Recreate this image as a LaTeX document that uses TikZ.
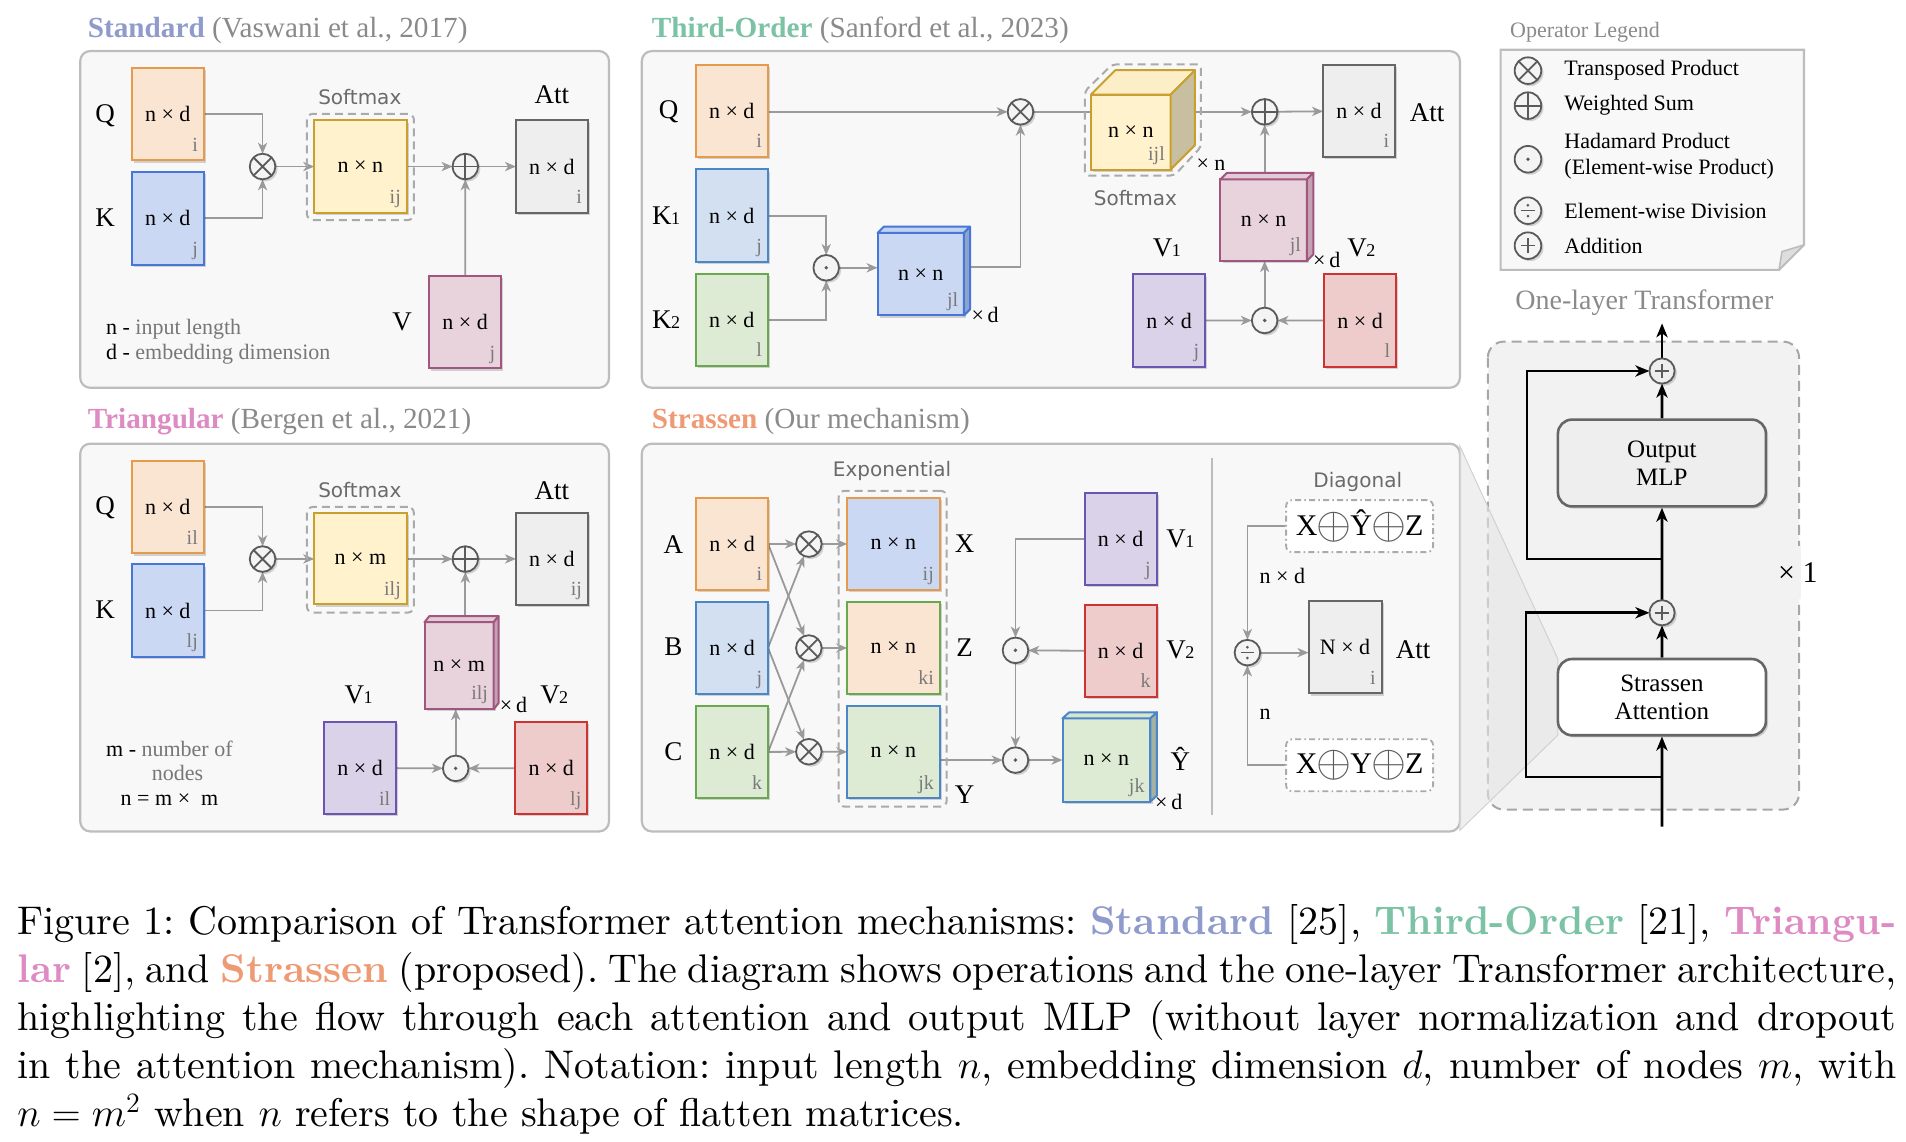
\RequirePackage{fix-cm}
\documentclass[tikz,border=0pt]{standalone}
\usepackage{fontspec}
\usepackage{graphicx}
\usetikzlibrary{arrows.meta,calc,shadows}
\newfontfamily\dfont{Liberation Serif}
\newfontfamily\sfd{DejaVu Sans}
\newfontfamily\capfont{lmroman10-regular.otf}[BoldFont=lmroman10-bold.otf, ItalicFont=lmroman10-italic.otf]
\pgfdeclarelayer{back}
\pgfdeclarelayer{mid}
\pgfsetlayers{back,mid,main}
\definecolor{panelfill}{HTML}{F8F8F8}
\definecolor{paneldraw}{HTML}{BDBDBD}
\definecolor{arrgray}{HTML}{9A9A9A}
\definecolor{opc}{HTML}{5A5A5A}
\definecolor{opfill}{HTML}{F4F4F4}
\definecolor{idxgray}{HTML}{7A7A7A}
\definecolor{notegray}{HTML}{777777}
\definecolor{titlegray}{HTML}{8A8A8A}
\definecolor{sfgray}{HTML}{6A6A6A}
\definecolor{dashgray}{HTML}{AAAAAA}
\definecolor{tfbg}{HTML}{F2F2F2}
\definecolor{cStd}{HTML}{8E9BCB}
\definecolor{cThird}{HTML}{7CC3A5}
\definecolor{cTri}{HTML}{DE8BC3}
\definecolor{cStr}{HTML}{EE9A74}
\definecolor{qfill}{HTML}{FAE5D3}\definecolor{qdraw}{HTML}{E69A4C}
\definecolor{kfill}{HTML}{CAD8F4}\definecolor{kdraw}{HTML}{4676D6}
\definecolor{klfill}{HTML}{D3E0F2}\definecolor{kldraw}{HTML}{4A86C8}
\definecolor{gfill}{HTML}{DDEAD4}\definecolor{gdraw}{HTML}{6AA84F}
\definecolor{yfill}{HTML}{FFF2CC}\definecolor{ydraw}{HTML}{C9A030}
\definecolor{afill}{HTML}{EEEEEE}\definecolor{adraw}{HTML}{666666}
\definecolor{pfill}{HTML}{E8D3DD}\definecolor{pdraw}{HTML}{A0567E}
\definecolor{vfill}{HTML}{D9D2E9}\definecolor{vdraw}{HTML}{6A55B0}
\definecolor{rfill}{HTML}{EFCCCC}\definecolor{rdraw}{HTML}{CC3333}
\definecolor{topB}{HTML}{C2D2F0}\definecolor{sideB}{HTML}{8EA3CC}
\definecolor{topY}{HTML}{FCEFC7}\definecolor{sideY}{HTML}{C8BFA0}
\definecolor{topP}{HTML}{E3CAD7}\definecolor{sideP}{HTML}{C4A0B5}
\definecolor{topG}{HTML}{D6E6CC}\definecolor{sideG}{HTML}{A6B2A0}
\newcommand{\matbox}[5][]{%
  \node[mat,#1] (#2) at (#3) {#4};
  \node[idx, anchor=base east] (#2i) at ([xshift=-2.7pt,yshift=4.6pt]#2.south east) {#5};}
\newcommand{\cubefaces}[6]{%
  \filldraw[line width=1pt, draw=#6, fill=#4, line join=round] (#1.north west) -- ++(#2,#3) -- ($(#1.north east)+(#2,#3)$) -- (#1.north east) -- cycle;
  \filldraw[line width=1pt, draw=#6, fill=#5, line join=round] (#1.north east) -- ++(#2,#3) -- ($(#1.south east)+(#2,#3)$) -- (#1.south east) -- cycle;}
\newcommand{\subn}[1]{\kern-0.3pt{\fontsize{9}{9}\selectfont #1}}
\newcommand{\opl}{{\color{opc}\raisebox{-0.1em}{\scalebox{1.5}{$\oplus$}}}}
\tikzset{
  shd/.style={drop shadow={shadow xshift=1.1pt,shadow yshift=-1.1pt,opacity=0.16,fill=black}},
  mat/.style={rectangle, line width=1pt, minimum width=35.9pt, minimum height=46.2pt, inner sep=0pt, outer sep=0pt, font=\dfont\fontsize{11}{13}\selectfont, shd},
  wide/.style={minimum width=46.2pt},
  cQ/.style={fill=qfill, draw=qdraw}, cK/.style={fill=kfill, draw=kdraw},
  cKl/.style={fill=klfill, draw=kldraw}, cG/.style={fill=gfill, draw=gdraw},
  cY/.style={fill=yfill, draw=ydraw}, cA/.style={fill=afill, draw=adraw},
  cP/.style={fill=pfill, draw=pdraw}, cV/.style={fill=vfill, draw=vdraw},
  cR/.style={fill=rfill, draw=rdraw},
  cXb/.style={fill=kfill, draw=qdraw}, cZb/.style={fill=qfill, draw=gdraw}, cYb/.style={fill=gfill, draw=kldraw},
  idx/.style={inner sep=0pt, font=\dfont\fontsize{10}{12}\selectfont, text=idxgray},
  lab/.style={inner sep=0pt, font=\dfont\fontsize{13.5}{15}\selectfont},
  note/.style={inner sep=0pt, font=\dfont\fontsize{11}{13}\selectfont},
  sflab/.style={inner sep=0pt, font=\sfd\fontsize{10}{12}\selectfont, text=sfgray},
  ttl/.style={anchor=west, inner sep=0pt, font=\dfont\fontsize{14.6}{16}\selectfont},
  arr/.style={draw=arrgray, line width=0.9pt, -{Stealth[length=5.5pt,width=4.6pt,inset=1.6pt]}},
  ln/.style={draw=arrgray, line width=0.9pt},
  tarr/.style={draw=black, line width=1.4pt, -{Stealth[length=7pt,width=5.6pt,inset=2pt]}},
  panel/.style={draw=paneldraw, fill=panelfill, line width=1.1pt, rounded corners=5pt},
  smd/.style={draw=dashgray, dash pattern=on 4pt off 2.5pt, line width=1pt, rounded corners=3pt, inner sep=0pt},
  ddb/.style={draw=dashgray, dash pattern=on 3pt off 1.6pt on 0.8pt off 1.6pt, line width=0.9pt, rounded corners=3pt, fill=white, minimum width=73.5pt, minimum height=26pt, inner sep=0pt, font=\dfont\fontsize{15}{17}\selectfont},
  op/.style={circle, draw=opc, fill=opfill, line width=0.9pt, minimum size=12.8pt, inner sep=0pt, outer sep=0pt, shd},
  otim/.style={op, path picture={\draw[opc, line width=0.9pt] (path picture bounding box.north west) -- (path picture bounding box.south east) (path picture bounding box.north east) -- (path picture bounding box.south west);}},
  opls/.style={op, path picture={\draw[opc, line width=0.9pt] (path picture bounding box.north) -- (path picture bounding box.south) (path picture bounding box.east) -- (path picture bounding box.west);}},
  odt/.style={op, path picture={\fill[opc] (path picture bounding box.center) circle (0.95pt);}},
  odiv/.style={op, path picture={\draw[opc, line width=0.8pt] ([xshift=-3.4pt]path picture bounding box.center) -- ([xshift=3.4pt]path picture bounding box.center); \fill[opc] ([yshift=2.7pt]path picture bounding box.center) circle (0.75pt) ([yshift=-2.7pt]path picture bounding box.center) circle (0.75pt);}},
  oadd/.style={op, path picture={\draw[opc, line width=0.8pt] ([xshift=-3.6pt]path picture bounding box.center) -- ([xshift=3.6pt]path picture bounding box.center) ([yshift=-3.6pt]path picture bounding box.center) -- ([yshift=3.6pt]path picture bounding box.center);}},
  tbox/.style={rectangle, rounded corners=7pt, draw=adraw, line width=1.3pt, minimum width=104pt, align=center, inner sep=0pt, font=\dfont\fontsize{12.5}{14}\selectfont, shd},
  legt/.style={anchor=west, inner sep=0pt, align=left, font=\dfont\fontsize{11}{13}\selectfont}
}
\begin{document}
\begin{tikzpicture}[x=0.6078pt,y=-0.6078pt]
\useasboundingbox (0,0) rectangle (1568,939);

% ---------------- backgrounds
\begin{pgfonlayer}{back}
\draw[panel] (66,42) rectangle (501,319);
\draw[panel] (528,42) rectangle (1201,319);
\draw[panel] (66,365) rectangle (501,684);
\draw[panel] (528,365) rectangle (1201,684);
\draw[draw=paneldraw, line width=1pt] (996.8,376.5) -- (996.8,670.4);
\filldraw[fill=panelfill, draw=paneldraw, line width=1.1pt] (1234.5,41) -- (1484,41) -- (1484,201.5) -- (1463.5,222) -- (1234.5,222) -- cycle;
\filldraw[fill=black!13, draw=paneldraw, line width=0.8pt, line join=round] (1484,201.5) -- (1466,207) -- (1463.5,222) -- cycle;
\filldraw[fill=tfbg, draw=black!35, dash pattern=on 5pt off 3pt, line width=1pt, rounded corners=8pt] (1224,281) rectangle (1480,666);
\fill[tfbg] (1474,449) rectangle (1482,493);
\filldraw[fill=black!10, fill opacity=0.6, draw=black!18, line width=0.5pt] (1201,367) -- (1281.6,542.1) -- (1281.6,604.8) -- (1201,683) -- cycle;
\end{pgfonlayer}

% ---------------- titles
\node[ttl] (t1) at (72,25) {\textbf{\color{cStd}Standard} {\color{titlegray}(Vaswani et al., 2017)}};
\node[ttl] (t2) at (536,25) {\textbf{\color{cThird}Third-Order} {\color{titlegray}(Sanford et al., 2023)}};
\node[ttl] (t3) at (72,347) {\textbf{\color{cTri}Triangular} {\color{titlegray}(Bergen et al., 2021)}};
\node[ttl] (t4) at (536,347) {\textbf{\color{cStr}Strassen} {\color{titlegray}(Our mechanism)}};

% ================= Standard
\matbox[cQ]{sQ}{138,94}{n × d}{i}
\matbox[cK]{sK}{138,179.6}{n × d}{j}
\node[lab] (sQl) at (86.5,95.5) {Q};
\node[lab] (sKl) at (86.5,179) {K};
\node[otim] (sX) at (216,137) {};
\node[smd, minimum width=53.5pt, minimum height=53.1pt] (sSmD) at (296.5,137.3) {};
\matbox[cY,wide]{sS}{296.5,137}{n × n}{ij}
\node[sflab] (sSml) at (296,80) {Softmax};
\node[opls] (sP) at (382.8,137) {};
\matbox[cA]{sAtt}{454,137}{n × d}{i}
\node[lab] (sAttl) at (454,77.7) {Att};
\matbox[cP]{sV}{382.6,265}{n × d}{j}
\node[lab] (sVl) at (330.8,265) {V};
\node[note, anchor=base west] (sn1) at (87,275) {n - {\color{notegray}input length}};
\node[note, anchor=base west] (sn2) at (87,296) {d - {\color{notegray}embedding dimension}};
\begin{pgfonlayer}{mid}
\draw[arr] (sQ.east) -| (sX);
\draw[arr] (sK.east) -| (sX);
\draw[arr] (sX) -- (sS);
\draw[arr] (sS) -- (sP);
\draw[arr] (sP) -- (sAtt);
\draw[arr] (sV) -- (sP);
\end{pgfonlayer}

% ================= Third-Order
\matbox[cQ]{tQ}{602,91.3}{n × d}{i}
\matbox[cKl]{tK1}{602,177.4}{n × d}{j}
\matbox[cG]{tK2}{602,263.2}{n × d}{l}
\node[lab] (tQl) at (550,92) {Q};
\node[lab] (tK1l) at (548,177.8) {K\subn{1}};
\node[lab] (tK2l) at (548,262.8) {K\subn{2}};
\node[odt] (tD1) at (679.7,220.3) {};
\matbox[cK,minimum width=43.2pt,minimum height=41.3pt]{tB}{757.5,225.5}{n × n}{jl}
\cubefaces{tB}{5}{-5}{topB}{sideB}{kdraw}
\node[note,anchor=west] (tBx) at (799,259) {×\,d};
\node[otim] (tX) at (839.5,92) {};
\draw[draw=dashgray, dash pattern=on 4pt off 2.5pt, line width=1pt, rounded corners=2pt] (892.5,144.4) -- (892.5,75) -- (915,53) -- (988,53) -- (988,121) -- (966,144.4) -- cycle;
\matbox[cY,minimum width=39.8pt,minimum height=37.5pt]{tS}{930.3,108.6}{n × n}{ijl}
\cubefaces{tS}{20}{-20}{topY}{sideY}{ydraw}
\node[note,anchor=west] (tSx) at (984,135) {× n};
\node[sflab] (tSml) at (934,162.7) {Softmax};
\node[opls] (tP) at (1040.4,92) {};
\matbox[cA]{tAtt}{1118,91.3}{n × d}{i}
\node[lab] (tAttl) at (1174,93) {Att};
\matbox[cP,minimum width=43.2pt,minimum height=40.8pt]{tPc}{1039.5,181.2}{n × n}{jl}
\cubefaces{tPc}{5.4}{-5.5}{topP}{sideP}{pdraw}
\node[note,anchor=west] (tPcx) at (1080,214) {×\,d};
\matbox[cV]{tV1}{961.8,263.8}{n × d}{j}
\matbox[cR]{tV2}{1118.9,263.8}{n × d}{l}
\node[lab] (tV1l) at (960,203.8) {V\subn{1}};
\node[lab] (tV2l) at (1120,203.8) {V\subn{2}};
\node[odt] (tD2) at (1040.4,263.6) {};
\coordinate (tBs) at ($(tB.east)+(5,-5.8)$);
\coordinate (tSs) at ($(tS.east |- tX)+(20,0)$);
\begin{pgfonlayer}{mid}
\draw[arr] (tQ.east |- tX) -- (tX);
\draw[arr] (tK1.east) -| (tD1);
\draw[arr] (tK2.east) -| (tD1);
\draw[arr] (tD1) -- (tD1 -| tB.west);
\draw[arr] (tBs) -| (tX);
\draw[ln] (tX) -- (tX -| tS.west);
\draw[arr] (tSs) -- (tP);
\draw[arr] (tP) -- (tAtt);
\draw[arr] (tP |- tPc.north) -- (tP);
\draw[arr] (tV1) -- (tD2);
\draw[arr] (tV2) -- (tD2);
\draw[arr] (tD2) -- (tD2 |- tPc.south);
\end{pgfonlayer}

% ================= Triangular
\matbox[cQ]{rQ}{138,417.2}{n × d}{il}
\matbox[cK]{rK}{138,502.3}{n × d}{lj}
\node[lab] (rQl) at (86.5,417.5) {Q};
\node[lab] (rKl) at (86.5,501.7) {K};
\node[otim] (rX) at (216,459.9) {};
\node[smd, minimum width=53.5pt, minimum height=52.8pt] (rSmD) at (296.5,460.5) {};
\matbox[cY,wide,minimum height=45.6pt]{rS}{296.5,459.7}{n × m}{ilj}
\node[sflab] (rSml) at (296,403.3) {Softmax};
\node[opls] (rP) at (382.8,459.9) {};
\matbox[cA]{rAtt}{454,459.7}{n × d}{ij}
\node[lab] (rAttl) at (454,403.8) {Att};
\matbox[cP,minimum width=34.6pt,minimum height=43.5pt]{rPc}{377.7,547.6}{n × m}{ilj}
\cubefaces{rPc}{4}{-5}{topP}{sideP}{pdraw}
\node[note,anchor=west] (rPcx) at (411,580) {×\,d};
\matbox[cV]{rV1}{296.3,631.8}{n × d}{il}
\matbox[cR]{rV2}{453.5,631.8}{n × d}{lj}
\node[lab] (rV1l) at (295,572) {V\subn{1}};
\node[lab] (rV2l) at (456,572) {V\subn{2}};
\node[odt] (rD) at (374.9,632.1) {};
\node[note, anchor=base west] (rn1) at (87,622) {m - {\color{notegray}number of}};
\node[note, anchor=base] (rn2) at (146,642) {\color{notegray}nodes};
\node[note, anchor=base west] (rn3) at (99,663) {n = m ×\enspace m};
\begin{pgfonlayer}{mid}
\draw[arr] (rQ.east) -| (rX);
\draw[arr] (rK.east) -| (rX);
\draw[arr] (rX) -- (rS);
\draw[arr] (rS) -- (rP);
\draw[arr] (rP) -- (rAtt);
\draw[arr] (rP |- rPc.north) -- (rP);
\draw[arr] (rV1) -- (rD);
\draw[arr] (rV2) -- (rD);
\draw[arr] (rD) -- (rD |- rPc.south);
\end{pgfonlayer}

% ================= Strassen
\matbox[cQ]{aA}{602.3,447.3}{n × d}{i}
\matbox[cKl]{aB}{602.3,532.9}{n × d}{j}
\matbox[cG]{aC}{602.3,618.7}{n × d}{k}
\node[lab] (aAl) at (553.9,447.6) {A};
\node[lab] (aBl) at (553.9,532.3) {B};
\node[lab] (aCl) at (553.9,618.4) {C};
\node[otim] (aX1) at (665.4,447.6) {};
\node[otim] (aX2) at (665.4,533.1) {};
\node[otim] (aX3) at (665.4,618.4) {};
\node[sflab] (aExp) at (733.9,387.4) {Exponential};
\node[smd, minimum width=54pt, minimum height=157.9pt] (aED) at (734.4,533.7) {};
\matbox[cXb,wide]{aXb}{735,447.3}{n × n}{ij}
\matbox[cZb,wide]{aZb}{735,532.9}{n × n}{ki}
\matbox[cYb,wide]{aYb}{735,618.7}{n × n}{jk}
\node[lab] (aXl) at (793.6,447.6) {X};
\node[lab] (aZl) at (793.6,533) {Z};
\node[lab] (aYl) at (793.6,654) {Y};
\matbox[cV,minimum height=45.9pt]{aV1}{921.9,443.5}{n × d}{j}
\matbox[cR]{aV2}{921.9,535.5}{n × d}{k}
\node[lab] (aV1l) at (971,443.5) {V\subn{1}};
\node[lab] (aV2l) at (971,535) {V\subn{2}};
\node[odt] (aDa) at (835.4,535) {};
\node[odt] (aDb) at (835.4,625.3) {};
\matbox[cYb,minimum width=43.9pt,minimum height=41.6pt]{aYh}{910.2,625.2}{n × n}{jk}
\cubefaces{aYh}{5.5}{-5}{topG}{sideG}{kldraw}
\node[lab] (aYhl) at (971,623.9) {Ŷ};
\node[note,anchor=west] (aYhx) at (950,660) {×\,d};
\node[sflab] (dlab) at (1117,396.6) {Diagonal};
\node[ddb] (dT) at (1118.5,432.8) {X\kern-0.5pt\opl\kern-0.5pt Ŷ\kern-0.5pt\opl\kern-0.5pt Z};
\node[ddb] (dB) at (1118.5,629.5) {X\kern-0.5pt\opl\kern-0.5pt Y\kern-0.5pt\opl\kern-0.5pt Z};
\node[odiv] (dV) at (1026.2,536.9) {};
\matbox[cA,minimum width=36.5pt]{dAtt}{1106.5,532.5}{N × d}{i}
\node[lab] (dAttl) at (1162.5,534.1) {Att};
\node[note] (dnd) at (1055,473.6) {n × d};
\node[note] (dn) at (1040.8,587.8) {n};
\begin{pgfonlayer}{mid}
\draw[arr] (aA) -- (aX1);
\draw[arr] (aA.east) -- (aX2);
\draw[arr] (aB.east) -- (aX1);
\draw[arr] (aB.east) -- (aX3);
\draw[arr] (aC.east) -- (aX2);
\draw[arr] (aC) -- (aX3);
\draw[arr] (aX1) -- (aXb);
\draw[arr] (aX2) -- (aZb);
\draw[arr] (aX3) -- (aYb);
\draw[arr] (aV1.west) -| (aDa);
\draw[arr] (aV2) -- (aDa);
\draw[arr] (aDa) -- (aDb);
\draw[arr] (aYb.east |- aDb) -- (aDb);
\draw[arr] (aDb) -- (aYh);
\draw[arr] (dT.west) -| (dV);
\draw[arr] (dB.west) -| (dV);
\draw[arr] (dV) -- (dV -| dAtt.west);
\end{pgfonlayer}

% ================= Legend
\node[legt, text=titlegray] (lgt) at (1242,26.6) {Operator Legend};
\node[otim, minimum size=13.3pt] (lg1) at (1257,58.1) {};
\node[opls, minimum size=13.3pt] (lg2) at (1257,86.9) {};
\node[odt, minimum size=13.3pt] (lg3) at (1257,131) {};
\node[odiv, minimum size=13.3pt] (lg4) at (1257,173.3) {};
\node[oadd, minimum size=13.3pt] (lg5) at (1257,202.1) {};
\node[legt] (lt1) at (1286.7,58.1) {Transposed Product};
\node[legt] (lt2) at (1286.7,86.9) {Weighted Sum};
\node[legt] (lt3) at (1286.7,128.5) {Hadamard Product\\(Element-wise Product)};
\node[legt] (lt4) at (1286.7,173.3) {Element-wise Division};
\node[legt] (lt5) at (1286.7,202.1) {Addition};

% ================= One-layer Transformer
\node[inner sep=0pt, font=\dfont\fontsize{14}{16}\selectfont, text=titlegray] (tft) at (1352.8,248.9) {One-layer Transformer};
\coordinate (tout) at (1367.3,266);
\node[oadd, minimum size=12.6pt, fill=black!7] (tp1) at (1367.3,305.2) {};
\node[tbox, fill=afill, minimum height=43.4pt] (mlp) at (1367.2,380.9) {Output\\MLP};
\coordinate (j1) at (1367.3,459.8);
\coordinate (r1) at (1256.2,459.8);
\node[oadd, minimum size=12.6pt, fill=black!7] (tp2) at (1367.3,504.1) {};
\node[tbox, fill=white, minimum height=38.1pt] (sa) at (1367.2,573.5) {Strassen\\Attention};
\coordinate (j2) at (1367.3,639.2);
\coordinate (r2) at (1255.4,639.2);
\coordinate (tin) at (1367.3,680);
\node[inner sep=0pt, font=\dfont\fontsize{15}{17}\selectfont] (rep) at (1479,471.2) {× 1};
\begin{pgfonlayer}{mid}
\draw[tarr] (tp1) -- (tout);
\draw[tarr] (mlp) -- (tp1);
\draw[tarr] (tp2) -- (mlp);
\draw[tarr] (sa) -- (tp2);
\draw[tarr] (tin) -- (sa);
\draw[tarr] (j1) -- (r1) |- (tp1);
\draw[tarr] (j2) -- (r2) |- (tp2);
\end{pgfonlayer}

% ================= Caption
\node[anchor=base west, text width=939.5pt, align=justify, inner sep=0pt, font=\capfont\fontsize{20}{24}\selectfont] (cap) at (14,769) {\frenchspacing Figure 1: Comparison of Transformer attention mechanisms: \textcolor{cStd}{\textbf{Standard}} [25], \textcolor{cThird}{\textbf{Third-Order}} [21], \textcolor{cTri}{\textbf{Triangu-}}\linebreak\textcolor{cTri}{\textbf{lar}} [2], and \textcolor{cStr}{\textbf{Strassen}} (proposed). The diagram shows operations and the one-layer Transformer architecture, highlighting the flow through each attention and output MLP (without layer normalization and dropout\linebreak in the attention mechanism). Notation: input length $n$, embedding dimension $d$, number of nodes $m$, with $n=m^2$ when $n$ refers to the shape of flatten matrices.};
\end{tikzpicture}
\end{document}
